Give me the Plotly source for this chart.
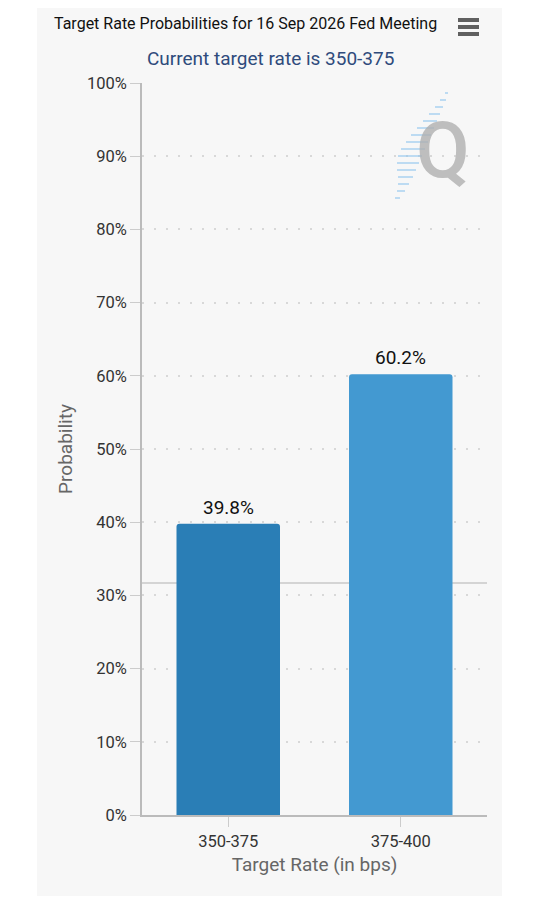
import plotly.graph_objects as go

categories = ["350-375", "375-400"]
probabilities = [39.8, 60.2]
bar_colors = ["#2a7eb6", "#4399d1"]
y_ticks = [0, 10, 20, 30, 40, 50, 60, 70, 80, 90, 100]
y_tick_labels = [f"{v}%" for v in y_ticks]
title_text = "Target Rate Probabilities for 16 Sep 2026 Fed Meeting"
subtitle_text = "Current target rate is 350-375"
crosshair_value = 31.7

FONT = "Roboto, 'Noto Sans', sans-serif"

# page has an 8px body margin; compensate so the figure lands at the reference positions
OFF = 8
W, H = 540 - OFF, 900 - OFF
# plot area in page pixels: x 142..487, y 83..815
L, R, T, B = 142 - OFF, 540 - 487, 83 - OFF, 900 - 815
pw, ph = W - L - R, H - T - B


def px_x(v):
    return (v - OFF - L) / pw


def px_y(v):
    return (H - B - (v - OFF)) / ph


fig = go.Figure()
fig.add_trace(go.Bar(
    x=categories,
    y=probabilities,
    marker=dict(color=bar_colors, line=dict(width=0), cornerradius=3),
    hoverinfo="skip",
))

shapes = [
    dict(type="rect", xref="paper", yref="paper",
         x0=px_x(37), x1=px_x(502), y0=px_y(896), y1=px_y(-10),
         fillcolor="#f7f7f7", line=dict(width=0), layer="below"),
    dict(type="line", xref="paper", yref="y", x0=0, x1=1.0,
         y0=crosshair_value, y1=crosshair_value,
         line=dict(color="#c8c8c8", width=1.5), layer="below"),
]
# hamburger icon
for yy in (20, 27, 34):
    shapes.append(dict(type="line", xref="paper", yref="paper",
                       x0=px_x(458), x1=px_x(479), y0=px_y(yy), y1=px_y(yy),
                       line=dict(color="#606060", width=4)))
# watermark streaks
streaks = [(448, 93, 3), (446, 100, 6), (443, 107, 8), (440, 114, 11), (437, 121, 14),
           (434, 128, 17), (431, 135, 20), (428, 142, 22), (425, 149, 24), (422, 156, 24),
           (419, 163, 22), (416, 170, 19), (413, 177, 15), (409, 184, 11), (405, 191, 8),
           (400, 198, 5)]
for sx, sy, ln in streaks:
    shapes.append(dict(type="line", xref="paper", yref="paper",
                       x0=px_x(sx - ln), x1=px_x(sx), y0=px_y(sy), y1=px_y(sy),
                       line=dict(color="rgba(150,200,238,0.6)", width=2)))

annotations = [
    dict(text=title_text, xref="paper", yref="paper", x=px_x(245), y=px_y(24),
         xanchor="center", yanchor="middle", showarrow=False,
         font=dict(size=16, color="#111111", family=FONT)),
    dict(text=subtitle_text, xref="paper", yref="paper", x=px_x(270), y=px_y(59),
         xanchor="center", yanchor="middle", showarrow=False,
         font=dict(size=19, color="#2f4b7c", family=FONT)),
    dict(text="Q", xref="paper", yref="paper", x=px_x(443), y=px_y(150),
         xanchor="center", yanchor="middle", showarrow=False,
         font=dict(size=78, color="rgba(175,175,175,0.8)", family=FONT, weight=500)),
]
for cat, val in zip(categories, probabilities):
    annotations.append(dict(text=f"{val:.1f}%", x=cat, y=val, xref="x", yref="y",
                            xanchor="center", yanchor="bottom", yshift=3,
                            showarrow=False,
                            font=dict(size=19, color="#111111", family=FONT)))

fig.update_layout(
    width=W, height=H,
    margin=dict(l=L, r=R, t=T, b=B, pad=0),
    paper_bgcolor="white",
    plot_bgcolor="rgba(0,0,0,0)",
    showlegend=False,
    bargap=0.4,
    font=dict(family=FONT),
    shapes=shapes,
    annotations=annotations,
    xaxis=dict(
        showgrid=False, showline=True, linecolor="#bbbbbb", linewidth=1.5,
        ticks="outside", ticklen=10, tickcolor="#cccccc",
        tickfont=dict(size=16.5, color="#333333", family=FONT),
        title=dict(text="Target Rate (in bps)", standoff=8,
                   font=dict(size=19, color="#666666", family=FONT)),
        fixedrange=True,
    ),
    yaxis=dict(
        range=[0, 100], tickvals=y_ticks, ticktext=y_tick_labels,
        showgrid=True, gridcolor="#d8d8d8", gridwidth=2, griddash="2px,10px",
        showline=True, linecolor="#bbbbbb", linewidth=1.5,
        ticks="outside", ticklen=10, tickcolor="#cccccc",
        tickfont=dict(size=16.5, color="#333333", family=FONT),
        title=dict(text="Probability", standoff=9,
                   font=dict(size=19, color="#666666", family=FONT)),
        zeroline=False, fixedrange=True,
    ),
)

fig.write_html("out.html", config={"displayModeBar": False})
